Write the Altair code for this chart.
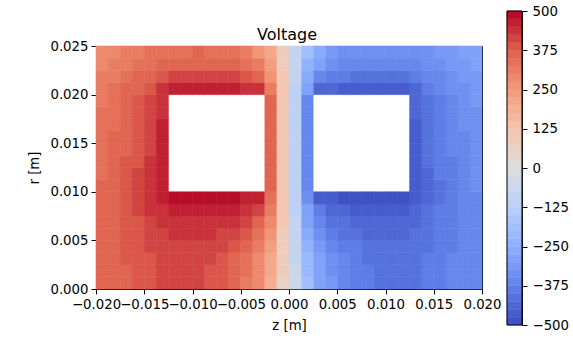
import altair as alt
import pandas as pd

# Grid geometry (cell size and extents of the computational domain)
Z_MIN, Z_MAX = -0.020, 0.020
R_MIN, R_MAX = 0.0, 0.025
STEP = 0.00125

N = None  # electrode (no field drawn)

# Voltage on the left half (z from -0.020 to 0), rows from r=0 (bottom) to r=0.025 (top)
V_LEFT = [
    [358, 363, 372, 383, 393, 401, 406, 406, 401, 392, 376, 353, 324, 282, 195, 70],
    [358, 364, 373, 385, 395, 403, 408, 408, 404, 395, 380, 358, 330, 288, 205, 75],
    [357, 365, 375, 388, 398, 407, 413, 414, 410, 402, 388, 368, 340, 298, 220, 80],
    [357, 366, 378, 390, 403, 414, 420, 422, 419, 412, 400, 382, 355, 315, 235, 85],
    [357, 366, 378, 393, 410, 423, 432, 435, 433, 428, 418, 402, 378, 340, 255, 95],
    [355, 365, 378, 395, 415, 432, 445, 448, 448, 445, 438, 425, 405, 370, 280, 100],
    [355, 365, 380, 400, 425, 448, 465, 468, 468, 466, 460, 450, 430, 400, 300, 105],
    [352, 363, 380, 403, 430, 458, 485, 488, 488, 488, 486, 482, 472, 452, 330, 110],
    [350, 362, 380, 402, 428, 457, N, N, N, N, N, N, N, N, 360, 120],
    [348, 360, 378, 400, 426, 456, N, N, N, N, N, N, N, N, 372, 124],
    [345, 358, 376, 399, 425, 456, N, N, N, N, N, N, N, N, 372, 124],
    [342, 356, 373, 397, 424, 455, N, N, N, N, N, N, N, N, 372, 124],
    [338, 352, 370, 394, 421, 454, N, N, N, N, N, N, N, N, 372, 124],
    [333, 348, 365, 390, 417, 452, N, N, N, N, N, N, N, N, 372, 124],
    [326, 342, 360, 384, 412, 448, N, N, N, N, N, N, N, N, 370, 124],
    [318, 336, 353, 377, 405, 440, N, N, N, N, N, N, N, N, 360, 120],
    [310, 330, 350, 372, 398, 428, 455, 460, 462, 462, 460, 456, 448, 428, 300, 110],
    [302, 318, 335, 353, 372, 390, 403, 408, 410, 410, 408, 400, 386, 360, 270, 100],
    [293, 305, 320, 334, 348, 360, 368, 372, 374, 373, 369, 360, 335, 300, 235, 90],
    [285, 295, 306, 317, 328, 338, 345, 348, 350, 349, 345, 336, 310, 270, 200, 85],
]

X_TICKS = [-0.020, -0.015, -0.010, -0.005, 0.0, 0.005, 0.010, 0.015, 0.020]
Y_TICKS = [0.000, 0.005, 0.010, 0.015, 0.020, 0.025]
CB_TICKS = [-500, -375, -250, -125, 0, 125, 250, 375, 500]
LEVEL = 25  # contour level spacing of the colour bar
COOLWARM = ["#3b4cc0", "#6282ea", "#8db0fe", "#b8d0f9", "#dddddd",
            "#f5c4ad", "#f49a7b", "#de604d", "#b40426"]

records = []
for j, row in enumerate(V_LEFT):
    for i, v in enumerate(row):
        if v is None:
            continue
        z0 = Z_MIN + i * STEP
        z1 = z0 + STEP
        r0 = R_MIN + j * STEP
        r1 = r0 + STEP
        records.append({"z0": z0, "z1": z1, "r0": r0, "r1": r1, "V": v})
        # antisymmetric right half (right electrode at the opposite voltage)
        records.append({"z0": -z1, "z1": -z0, "r0": r0, "r1": r1, "V": -v})
df = pd.DataFrame(records)

cb_lo = list(range(CB_TICKS[0], CB_TICKS[-1], LEVEL))
cbar_df = pd.DataFrame({"lo": cb_lo, "hi": [v + LEVEL for v in cb_lo],
                        "mid": [v + LEVEL / 2 for v in cb_lo]})

FONT = "DejaVu Sans"
cscale = alt.Scale(domain=CB_TICKS, range=COOLWARM, interpolate="rgb")
quant = f"floor(datum.V / {LEVEL}) * {LEVEL} + {LEVEL / 2}"

field = alt.Chart(df).transform_calculate(Vq=quant).mark_rect(strokeWidth=0.6).encode(
    x=alt.X("z0:Q",
            scale=alt.Scale(domain=[Z_MIN, Z_MAX], nice=False, zero=False),
            axis=alt.Axis(values=X_TICKS, format=".3f", title="z [m]",
                          labelOverlap=False, labelFlush=False, grid=False,
                          titlePadding=8)),
    x2="z1:Q",
    y=alt.Y("r0:Q",
            scale=alt.Scale(domain=[R_MIN, R_MAX], nice=False, zero=False),
            axis=alt.Axis(values=Y_TICKS, format=".3f", title="r [m]",
                          labelOverlap=False, labelFlush=False, grid=False,
                          titlePadding=8)),
    y2="r1:Q",
    color=alt.Color("Vq:Q", scale=cscale, legend=None),
    stroke=alt.Stroke("Vq:Q", scale=cscale, legend=None),
)

# colour bar: bands of the contour levels on an independent y scale, axis on the right
cbar = alt.Chart(cbar_df).mark_rect(strokeWidth=0.5).encode(
    x=alt.value(411), x2=alt.value(426),
    y=alt.Y("lo:Q",
            scale=alt.Scale(domain=[CB_TICKS[0], CB_TICKS[-1]], range=[279, -35],
                            nice=False, zero=False),
            axis=alt.Axis(orient="right", offset=40, values=CB_TICKS, title=None,
                          grid=False, labelOverlap=False, labelFlush=False,
                          labelPadding=5, tickSize=5, domain=True)),
    y2="hi:Q",
    color=alt.Color("mid:Q", scale=cscale, legend=None),
    stroke=alt.Stroke("mid:Q", scale=cscale, legend=None),
)

frame = alt.Chart(pd.DataFrame({"k": [0]})).mark_rect(
    fill=None, stroke="black", strokeWidth=1
).encode(x=alt.value(411), x2=alt.value(426), y=alt.value(-35), y2=alt.value(279))

title = alt.Chart(pd.DataFrame({"t": ["Voltage"]})).mark_text(
    font=FONT, fontSize=16, color="black", align="center", baseline="alphabetic"
).encode(text="t:N", x=alt.value(191), y=alt.value(-6))

chart = alt.layer(field, cbar, frame, title).resolve_scale(
    y="independent"
).properties(
    width=386, height=243,
    autosize=alt.AutoSizeParams(type="none"),
    padding={"left": 96, "top": 46, "right": 91, "bottom": 49},
).configure_view(
    stroke="black", strokeWidth=1
).configure_axis(
    labelFont=FONT, titleFont=FONT, labelFontSize=13.3, titleFontSize=13.3,
    titleFontWeight="normal", labelColor="black", titleColor="black",
    domainColor="black", tickColor="black", tickSize=5, labelPadding=3,
    domainWidth=1, tickWidth=1
)

chart.save("out.html", embed_options={"renderer": "svg", "actions": False})
